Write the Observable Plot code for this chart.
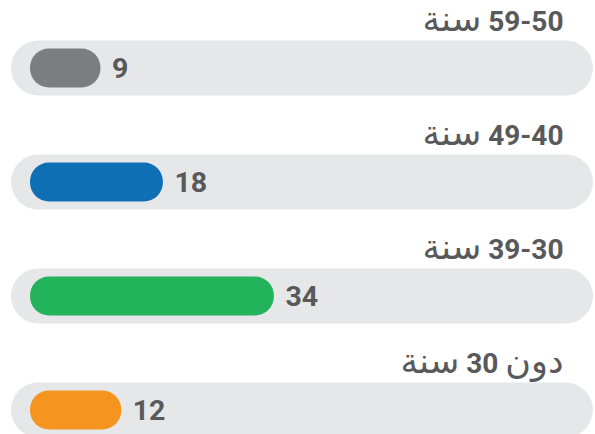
<!DOCTYPE html>
<html>
<head>
<meta charset="utf-8">
<script src="https://cdn.jsdelivr.net/npm/d3@7"></script>
<script src="https://cdn.jsdelivr.net/npm/@observablehq/plot@0.6"></script>
<style>
  html, body { margin: 0; padding: 0; background: #fff; }
  #chart svg { display: block; }
</style>
</head>
<body>
<div id="chart"></div>
<script>
// Data
const categories = ["59-50 سنة", "49-40 سنة", "39-30 سنة", "دون 30 سنة"];
const values = [9, 18, 34, 12];
const colors = ["#7b7e7f", "#0f6fb4", "#22b35b", "#f5941f"];
const xMax = 80;

const rows = categories.map((c, i) => ({category: c, value: values[i], color: colors[i]}));

const chart = Plot.plot({
  width: 595,
  height: 434,
  marginTop: 0, marginBottom: 0, marginLeft: 0, marginRight: 0,
  style: {fontFamily: "Roboto, 'DejaVu Sans', sans-serif", background: "#fff"},
  x: {domain: [0, xMax], range: [38, 593], axis: null},
  y: {domain: categories, type: "band", range: [10.5, 466.5], padding: 0, axis: null},
  marks: [
    // background tracks
    Plot.barX(rows, {
      y: "category", x1: () => 0, x2: () => xMax,
      fill: "#e6e7e9", rx: 27.5, insetTop: 29.5, insetBottom: 29.5, insetLeft: -27
    }),
    // value bars
    Plot.barX(rows, {
      y: "category", x1: () => 0, x2: "value",
      fill: "color", rx: 19, insetTop: 37.5, insetBottom: 37.5, insetLeft: -8
    }),
    // value labels
    Plot.text(rows, {
      y: "category", x: "value", text: d => String(d.value),
      textAnchor: "start", dx: 11, fill: "#58595b",
      fontSize: 28.5, fontWeight: "bold"
    }),
    // category labels above tracks
    Plot.text(rows, {
      y: "category", x: () => xMax, text: "category",
      textAnchor: "end", dx: -30, dy: -46, fill: "#58595b",
      fontSize: 28, fontWeight: "bold", className: "cat-label"
    })
  ]
});

// Right-to-left labels; Arabic words in a lighter, larger face as in the reference
d3.select(chart).selectAll("g.cat-label text").each(function() {
  const t = this.textContent;
  const el = d3.select(this);
  el.attr("direction", "rtl").attr("text-anchor", "start").style("unicode-bidi", "embed");
  el.text(null);
  t.split(/([\u0600-\u06FF]+)/).forEach(part => {
    if (!part) return;
    const ts = el.append("tspan").text(part);
    if (/[\u0600-\u06FF]/.test(part)) {
      ts.attr("font-size", 35).attr("font-weight", "normal")
        .attr("font-family", "'DejaVu Sans', sans-serif").attr("letter-spacing", 0);
    } else {
      ts.attr("letter-spacing", 2.5);
    }
  });
});

document.getElementById("chart").appendChild(chart);
</script>
</body>
</html>
